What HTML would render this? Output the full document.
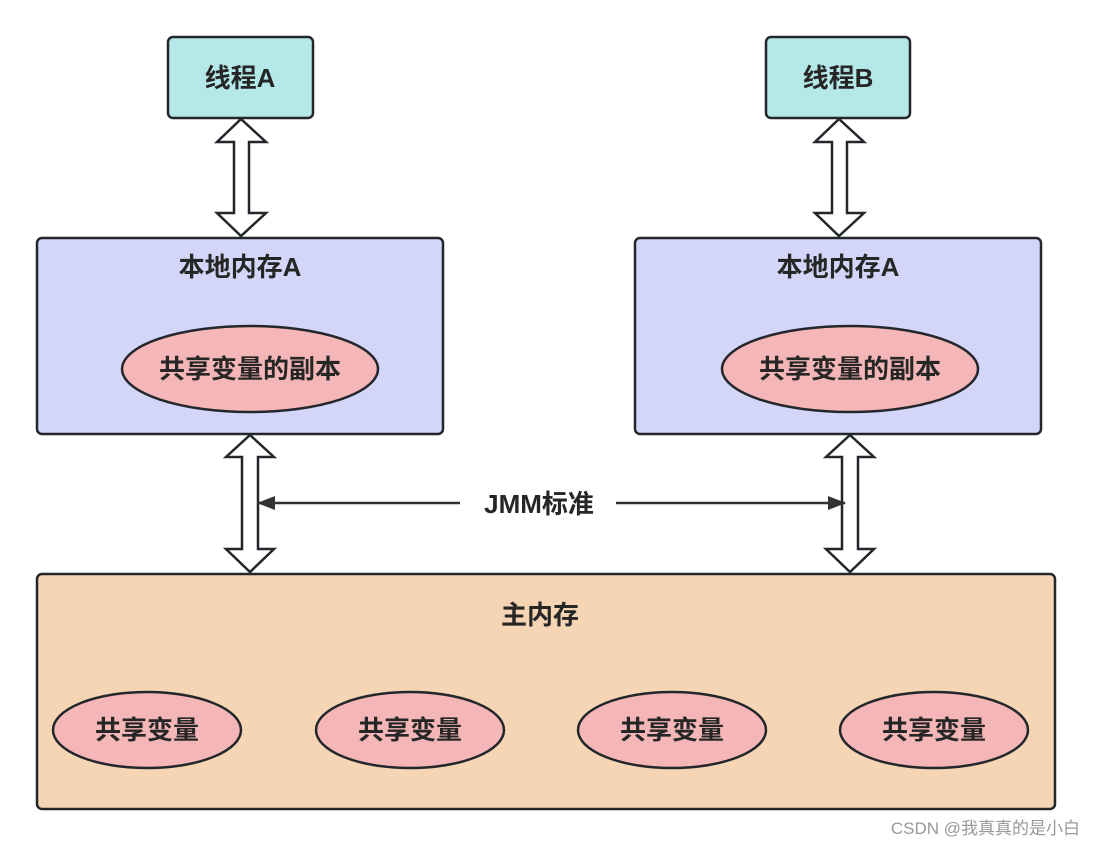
<!DOCTYPE html>
<html><head><meta charset="utf-8"><style>
body{margin:0;background:#fff;}
svg text{font-family:"Liberation Sans","Noto Sans CJK SC",sans-serif;font-weight:bold;fill:#262626;}
</style></head><body>
<svg width="1093" height="847" xmlns="http://www.w3.org/2000/svg">
<defs>
<marker id="ah" markerWidth="18" markerHeight="14" refX="17" refY="7" orient="auto" markerUnits="userSpaceOnUse"><path d="M0,0 L18,7 L0,14 z" fill="#333"/></marker>
</defs>
<g stroke="#23272b" stroke-width="2.5">
<rect x="168" y="37" width="145" height="81" rx="5" fill="#b5e9e9"/>
<rect x="766" y="37" width="144" height="81" rx="5" fill="#b5e9e9"/>
<rect x="37" y="238" width="406" height="196" rx="5" fill="#d3d6f8"/>
<rect x="635" y="238" width="406" height="196" rx="5" fill="#d3d6f8"/>
<rect x="37" y="574" width="1018" height="235" rx="5" fill="#f6d5b4"/>
<ellipse cx="250" cy="369" rx="128" ry="43" fill="#f4b6b6"/>
<ellipse cx="850" cy="369" rx="128" ry="43" fill="#f4b6b6"/>
<ellipse cx="147" cy="730" rx="94" ry="38" fill="#f4b6b6"/>
<ellipse cx="410" cy="730" rx="94" ry="38" fill="#f4b6b6"/>
<ellipse cx="672" cy="730" rx="94" ry="38" fill="#f4b6b6"/>
<ellipse cx="934" cy="730" rx="94" ry="38" fill="#f4b6b6"/>
<path d="M241,119 L266,142 L249,142 L249,213 L266,213 L241,236 L217,213 L234,213 L234,142 L217,142 Z" fill="#fff"/>
<path d="M839,119 L864,142 L847,142 L847,213 L864,213 L839,236 L815,213 L832,213 L832,142 L815,142 Z" fill="#fff"/>
<path d="M250,435 L274,457 L258,457 L258,549 L274,549 L250,572 L226,549 L242,549 L242,457 L226,457 Z" fill="#fff"/>
<path d="M850,435 L874,457 L858,457 L858,549 L874,549 L850,572 L826,549 L842,549 L842,457 L826,457 Z" fill="#fff"/>
</g>
<g stroke="#333" stroke-width="2.5">
<line x1="460" y1="503" x2="258" y2="503" marker-end="url(#ah)"/>
<line x1="616" y1="503" x2="845" y2="503" marker-end="url(#ah)"/>
</g>
<g font-size="26" text-anchor="middle">
<text x="240" y="87">线程A</text>
<text x="838" y="87">线程B</text>
<text x="240" y="276">本地内存A</text>
<text x="838" y="276">本地内存A</text>
<text x="250" y="378">共享变量的副本</text>
<text x="850" y="378">共享变量的副本</text>
<text x="539" y="513">JMM标准</text>
<text x="540" y="624">主内存</text>
<text x="147" y="739">共享变量</text>
<text x="410" y="739">共享变量</text>
<text x="672" y="739">共享变量</text>
<text x="934" y="739">共享变量</text>
</g>
<text x="1080" y="834" font-size="17" text-anchor="end" style="font-weight:normal;fill:#999">CSDN @我真真的是小白</text>
</svg>
</body></html>
